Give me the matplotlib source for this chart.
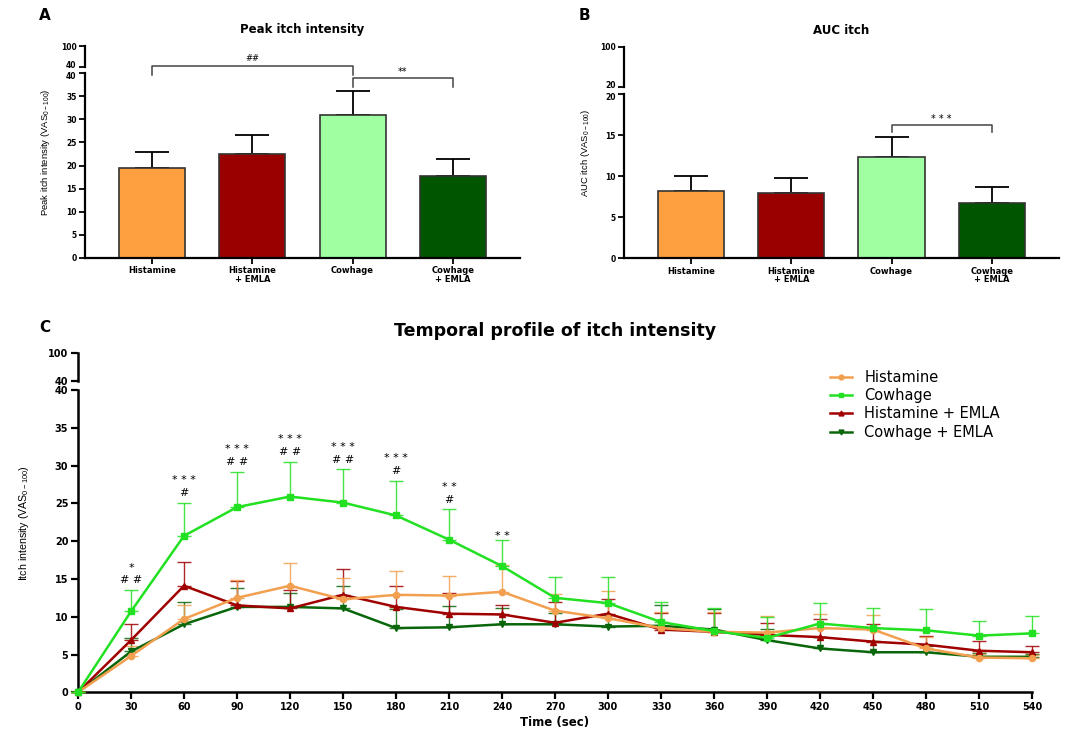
import matplotlib
matplotlib.use('Agg')
import matplotlib.pyplot as plt
from matplotlib import font_manager as fm
from matplotlib.lines import Line2D
from matplotlib.transforms import ScaledTranslation

# ---------------- data ----------------
groups = ['Histamine', 'Histamine\n+ EMLA', 'Cowhage', 'Cowhage\n+ EMLA']
bar_colors = ['#FFA040', '#990000', '#A0FFA0', '#005500']

peak_mean = [19.4, 22.6, 31.0, 17.7]
peak_sem = [3.6, 4.1, 5.1, 3.8]

auc_mean = [8.2, 8.0, 12.4, 6.8]
auc_sem = [1.8, 1.8, 2.4, 1.9]

time_sec = [0, 30, 60, 90, 120, 150, 180, 210, 240, 270, 300, 330, 360, 390, 420, 450, 480, 510, 540]
hist = [0, 4.8, 9.7, 12.5, 14.1, 12.3, 12.9, 12.8, 13.3, 10.8, 9.8, 8.5, 8.0, 7.9, 8.5, 8.3, 5.8, 4.6, 4.5]
hist_sem = [0, 1.3, 1.9, 2.4, 3.0, 2.8, 3.1, 2.6, 3.6, 2.2, 3.6, 2.1, 2.6, 2.2, 1.9, 1.9, 1.5, 0.5, 0.4]
cow = [0, 10.7, 20.7, 24.5, 25.9, 25.1, 23.4, 20.2, 16.7, 12.5, 11.8, 9.3, 8.1, 7.2, 9.1, 8.5, 8.2, 7.5, 7.8]
cow_sem = [0, 2.8, 4.4, 4.7, 4.6, 4.4, 4.6, 4.0, 3.4, 2.8, 3.4, 2.6, 3.0, 2.7, 2.7, 2.6, 2.8, 2.0, 2.3]
hist_emla = [0, 6.9, 14.1, 11.5, 11.1, 12.9, 11.3, 10.4, 10.3, 9.2, 10.4, 8.3, 8.0, 7.6, 7.3, 6.7, 6.3, 5.5, 5.3]
hist_emla_sem = [0, 2.1, 3.2, 3.2, 2.4, 3.4, 2.8, 2.8, 1.2, 2.7, 2.0, 2.2, 2.5, 1.6, 2.4, 2.3, 1.1, 1.3, 0.8]
cow_emla = [0, 5.4, 9.0, 11.3, 11.3, 11.1, 8.5, 8.6, 9.0, 9.0, 8.7, 8.8, 8.3, 6.9, 5.8, 5.3, 5.3, 4.7, 4.7]
cow_emla_sem = [0, 1.8, 2.9, 2.5, 1.8, 2.9, 2.5, 2.8, 2.2, 1.5, 1.5, 2.8, 2.7, 1.5, 1.5, 1.5, 0.8, 0.5, 0.4]

stat_times = [30, 60, 90, 120, 150, 180, 210, 240]
stat_stars = ['*', '* * *', '* * *', '* * *', '* * *', '* * *', '* *', '* *']
stat_hash = ['# #', '#', '# #', '# #', '# #', '#', '#', '']

series_labels = ['Histamine', 'Cowhage', 'Histamine + EMLA', 'Cowhage + EMLA']
series_colors = ['#F2A050', '#22E022', '#A00000', '#0A660A']

# ---------------- fonts ----------------
names = {f.name for f in fm.fontManager.ttflist}
if 'Liberation Sans Narrow' in names:
    NARROW = 'Liberation Sans Narrow'
    nscale = 1.0
else:
    NARROW = 'Liberation Sans'
    nscale = 0.85
BOLD = 'DejaVu Sans'

W, H = 1076, 731
fig = plt.figure(figsize=(W / 100, H / 100), dpi=100)


def fx(px):
    return px / W


def fy(py):
    return 1 - py / H


def add_axes(left, right, top, bottom):
    ax = fig.add_axes([fx(left), fy(bottom), (right - left) / W, (bottom - top) / H])
    ax.patch.set_visible(False)
    for s in ['top', 'right']:
        ax.spines[s].set_visible(False)
    return ax


def style(ax, lw=1.6, tl=4, tw=1.3):
    for s in ['left', 'bottom']:
        ax.spines[s].set_linewidth(lw)
        ax.spines[s].set_color('black')
    ax.tick_params(direction='out', length=tl, width=tw, pad=2, colors='black')


def shift_label(ax, idx, dy_px):
    lab = ax.get_yticklabels()[idx]
    lab.set_transform(lab.get_transform() + ScaledTranslation(0, dy_px / 100, fig.dpi_scale_trans))


def upper(ax, lo, hi, xlim, fs, lw=1.6, tl=4, tw=1.3):
    ax.spines['bottom'].set_visible(False)
    ax.set_xticks([])
    ax.set_xlim(*xlim)
    ax.set_ylim(lo, hi)
    style(ax, lw, tl, tw)
    ax.set_yticks([lo, hi], [str(lo), str(hi)], fontsize=fs, fontweight='bold', family=BOLD)


def bar_panel(ax, means, sems, ymax, yticks, fs_y, fs_x):
    x = list(range(len(groups)))
    ax.bar(x, means, width=0.66, color=bar_colors, edgecolor='#333333', linewidth=1.2, zorder=2)
    ax.errorbar(x, means, yerr=[[0] * len(sems), sems], fmt='none', ecolor='black',
                elinewidth=1.3, capsize=12, capthick=1.3, zorder=1)
    ax.set_xlim(-0.67, 3.67)
    ax.set_ylim(0, ymax)
    style(ax)
    ax.set_yticks(yticks, [str(t) for t in yticks], fontsize=fs_y, fontweight='bold', family=BOLD)
    ax.set_xticks(x, groups, fontsize=fs_x, fontweight='bold', family=BOLD, linespacing=0.95)


# ---------------- Panel A ----------------
axA = add_axes(85, 520, 73.3, 257.7)
bar_panel(axA, peak_mean, peak_sem, 40, list(range(0, 41, 5)), 5.5, 6)
axAu = add_axes(85, 520, 46, 66.7)
upper(axAu, 40, 100, (-0.67, 3.67), 5.5)
shift_label(axAu, 0, 2.5)
shift_label(axA, -1, -2.0)
bc = '#444444'
axA.plot([0, 0, 2, 2], [39.6, 41.6, 41.6, 39.6], color=bc, lw=1.1, clip_on=False)
axA.text(1, 42.2, '##', ha='center', va='bottom', fontsize=6, style='italic', clip_on=False)
axA.plot([2, 2, 3, 3], [37.0, 39.0, 39.0, 37.0], color=bc, lw=1.1, clip_on=False)
axA.text(2.5, 39.3, '**', ha='center', va='bottom', fontsize=7, clip_on=False)
fig.text(fx(302.5), fy(30), 'Peak itch intensity', ha='center', va='center',
         fontsize=8.5, fontweight='bold', family=BOLD)
fig.text(fx(45), fy(16), 'A', ha='center', va='center', fontsize=11, fontweight='bold', family=BOLD)
fig.text(fx(46), fy(152), r'Peak itch intensity (VAS$_{\mathregular{0-100}}$)', rotation=90,
         ha='center', va='center', fontsize=8 * nscale, family=NARROW)

# ---------------- Panel B ----------------
axB = add_axes(623.8, 1059, 94.3, 258.3)
bar_panel(axB, auc_mean, auc_sem, 20, [0, 5, 10, 15, 20], 5.5, 6)
axBu = add_axes(623.8, 1059, 46.7, 87.3)
upper(axBu, 20, 100, (-0.67, 3.67), 5.5)
shift_label(axBu, 0, 2.5)
shift_label(axB, -1, -2.0)
axB.plot([2, 2, 3, 3], [15.4, 16.26, 16.26, 15.4], color=bc, lw=1.1, clip_on=False)
axB.text(2.5, 16.4, '* * *', ha='center', va='bottom', fontsize=7, clip_on=False)
fig.text(fx(841.4), fy(31), 'AUC itch', ha='center', va='center',
         fontsize=8.5, fontweight='bold', family=BOLD)
fig.text(fx(584.5), fy(16), 'B', ha='center', va='center', fontsize=11, fontweight='bold', family=BOLD)
fig.text(fx(586), fy(152.5), r'AUC itch (VAS$_{\mathregular{0-100}}$)', rotation=90,
         ha='center', va='center', fontsize=8 * nscale, family=NARROW)

# ---------------- Panel C ----------------
axC = add_axes(78, 1032, 390, 692.3)
axCu = add_axes(78, 1032, 353.3, 381)
upper(axCu, 40, 100, (0, 540), 7, lw=1.8, tl=5, tw=1.6)

series = [
    (cow_emla, cow_emla_sem, series_colors[3], 'v', 4.5),
    (hist_emla, hist_emla_sem, series_colors[2], '^', 4.5),
    (hist, hist_sem, series_colors[0], 'o', 4.5),
    (cow, cow_sem, series_colors[1], 's', 4.5),
]
for i, (m, s, c, mk, ms) in enumerate(series):
    axC.errorbar(time_sec, m, yerr=[[0] * len(s), s], fmt='none', ecolor=c, elinewidth=1.0,
                 capsize=5, capthick=1.0, alpha=0.85, zorder=2 + i, clip_on=False)
    axC.plot(time_sec, m, color=c, marker=mk, ms=ms, lw=1.8, zorder=6 + i, clip_on=False)

axC.set_xlim(0, 540)
axC.set_ylim(0, 40)
style(axC, lw=1.8, tl=5, tw=1.6)
axC.set_xticks(time_sec, [str(t) for t in time_sec], fontsize=7, fontweight='bold', family=BOLD)
axC.set_yticks(list(range(0, 41, 5)), [str(t) for t in range(0, 41, 5)], fontsize=7,
               fontweight='bold', family=BOLD)
axC.set_xlabel('Time (sec)', fontsize=8.5, fontweight='bold', family=BOLD, labelpad=3)

for t, st, hs in zip(stat_times, stat_stars, stat_hash):
    idx = time_sec.index(t)
    top = cow[idx] + cow_sem[idx]
    if hs:
        axC.text(t, top + 1.3, hs, ha='center', va='center', fontsize=8, clip_on=False)
        axC.text(t, top + 3.0, st, ha='center', va='center', fontsize=8, clip_on=False)
    else:
        axC.text(t, top + 0.6, st, ha='center', va='center', fontsize=8, clip_on=False)

fig.text(fx(555), fy(331), 'Temporal profile of itch intensity', ha='center', va='center',
         fontsize=12.5, fontweight='bold', family=BOLD)
fig.text(fx(45), fy(328), 'C', ha='center', va='center', fontsize=11, fontweight='bold', family=BOLD)
fig.text(fx(24), fy(523), r'Itch intensity (VAS$_{\mathregular{0-100}}$)', rotation=90,
         ha='center', va='center', fontsize=9 * nscale, family=NARROW)

markers = ['o', 's', '^', 'v']
handles = [Line2D([], [], color=c, marker=mk, ms=3.5, lw=1.8) for c, mk in zip(series_colors, markers)]
fig.legend(handles, series_labels, loc='upper left', bbox_to_anchor=(fx(830), fy(370)),
           frameon=False, fontsize=10.5, handlelength=1.5, handletextpad=0.85,
           labelspacing=0.22, borderpad=0, borderaxespad=0)

fig.savefig('out.png', dpi=100)
